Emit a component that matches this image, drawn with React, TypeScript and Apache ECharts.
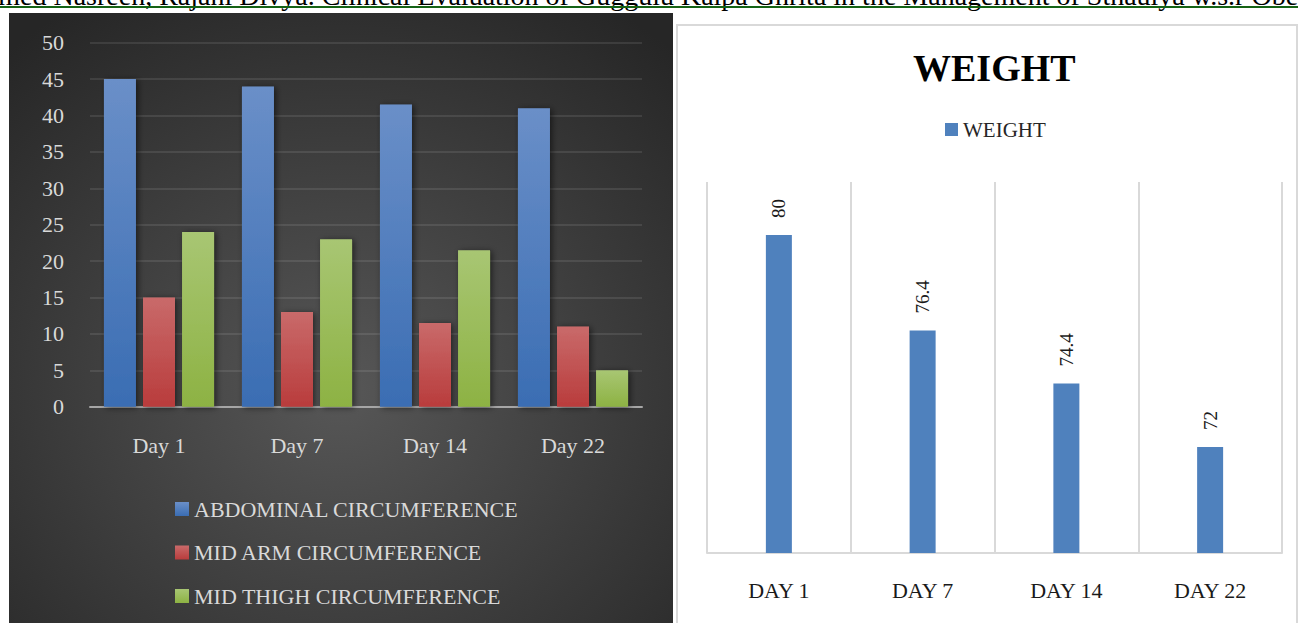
import React, { useEffect, useRef } from "react";
import * as echarts from "echarts";

const days = ["Day 1", "Day 7", "Day 14", "Day 22"];
const seriesNames = ["ABDOMINAL CIRCUMFERENCE", "MID ARM CIRCUMFERENCE", "MID THIGH CIRCUMFERENCE"];
const abdominal = [45, 44, 41.5, 41];
const midArm = [15, 13, 11.5, 11];
const midThigh = [24, 23, 21.5, 5];
const yTicks = { min: 0, max: 50, interval: 5 };

const weightDays = ["DAY 1", "DAY 7", "DAY 14", "DAY 22"];
const weight = [80, 76.4, 74.4, 72];
const weightName = "WEIGHT";

const headerText =
  "Ahmed Nasreen, Rajani Divya. Clinical Evaluation of Guggulu Kalpa Ghrita in the Management of Sthaulya w.s.r Obesity";

const FONT = "Liberation Serif";

function grad(top: string, bottom: string) {
  return new echarts.graphic.LinearGradient(0, 0, 0, 1, [
    { offset: 0, color: top },
    { offset: 1, color: bottom },
  ]);
}

export default function App() {
  const ref = useRef<HTMLDivElement>(null);
  useEffect(() => {
    if (!ref.current) return;
    const chart = echarts.init(ref.current, undefined, { renderer: "svg" });
    const barShadow = {
      shadowBlur: 6,
      shadowColor: "rgba(0,0,0,0.55)",
      shadowOffsetX: 2,
      shadowOffsetY: 1,
    };
    const colors = [
      grad("#6a8fc8", "#3a6db3"),
      grad("#c96a6a", "#b93c3c"),
      grad("#a8c673", "#8db243"),
    ];
    const leftData = [abdominal, midArm, midThigh];
    chart.setOption({
      animation: false,
      backgroundColor: "#ffffff",
      textStyle: { fontFamily: FONT },
      graphic: [
        {
          type: "rect",
          z: -10,
          silent: true,
          shape: { x: 9, y: 13, width: 664, height: 610 },
          style: {
            fill: new echarts.graphic.RadialGradient(0.5, 0.62, 0.75, [
              { offset: 0, color: "#575757" },
              { offset: 1, color: "#262626" },
            ]),
          },
        },
        {
          type: "rect",
          z: -10,
          silent: true,
          shape: { x: 677, y: 25, width: 620, height: 620 },
          style: { fill: "#ffffff", stroke: "#d9d9d9", lineWidth: 2 },
        },
        {
          type: "text",
          z: -6,
          silent: true,
          x: -36,
          y: 9,
          style: {
            text: headerText,
            font: `28px "${FONT}"`,
            fill: "#000000",
            verticalAlign: "bottom",
            align: "left",
          },
        },
        {
          type: "line",
          z: -5,
          silent: true,
          shape: { x1: 0, y1: 7, x2: 1298, y2: 7 },
          style: { stroke: "#156315", lineWidth: 2 },
        },
      ],
      title: {
        text: weightName,
        left: 908,
        top: 44,
        textStyle: { fontFamily: FONT, fontSize: 38, fontWeight: "bold", color: "#000000" },
      },
      legend: [
        {
          data: seriesNames,
          orient: "vertical",
          left: 170,
          top: 493,
          itemWidth: 14,
          itemHeight: 14,
          itemGap: 21.5,
          icon: "rect",
          textStyle: { color: "#d9d9d9", fontSize: 22, fontFamily: FONT },
        },
        {
          data: [weightName],
          left: 940,
          top: 114,
          itemWidth: 13,
          itemHeight: 13,
          icon: "rect",
          textStyle: { color: "#262626", fontSize: 21, fontFamily: FONT },
        },
      ],
      grid: [
        { left: 90, top: 42.7, width: 552, height: 364 },
        { left: 707, top: 182, width: 575, height: 371 },
      ],
      xAxis: [
        {
          type: "category",
          gridIndex: 0,
          data: days,
          axisLine: { lineStyle: { color: "#a6a6a6", width: 2 } },
          axisTick: { show: false },
          axisLabel: { color: "#d9d9d9", fontSize: 22, margin: 28, fontFamily: FONT },
        },
        {
          type: "category",
          gridIndex: 1,
          data: weightDays,
          axisLine: { lineStyle: { color: "#d9d9d9", width: 2 } },
          axisTick: { show: false },
          splitLine: { show: true, lineStyle: { color: "#d9d9d9", width: 2 } },
          axisLabel: { color: "#1a1a1a", fontSize: 22, margin: 26, fontFamily: FONT },
        },
      ],
      yAxis: [
        {
          type: "value",
          gridIndex: 0,
          min: yTicks.min,
          max: yTicks.max,
          interval: yTicks.interval,
          axisLine: { show: false },
          axisTick: { show: false },
          splitLine: { lineStyle: { color: "rgba(255,255,255,0.13)", width: 1.5 } },
          axisLabel: { color: "#d9d9d9", fontSize: 22, margin: 26, fontFamily: FONT },
        },
        {
          type: "value",
          gridIndex: 1,
          min: 68,
          max: 82,
          show: false,
          splitLine: { show: false },
        },
      ],
      series: [
        ...seriesNames.map((name, i) => ({
          name,
          type: "bar",
          xAxisIndex: 0,
          yAxisIndex: 0,
          data: leftData[i],
          barWidth: 32,
          barGap: "22%",
          itemStyle: { color: colors[i], ...barShadow },
        })),
        {
          name: weightName,
          type: "bar",
          xAxisIndex: 1,
          yAxisIndex: 1,
          data: weight,
          barWidth: 26,
          itemStyle: { color: "#4f81bd" },
          label: {
            show: true,
            position: "top",
            rotate: 90,
            align: "left",
            verticalAlign: "middle",
            distance: 17,
            color: "#1a1a1a",
            fontSize: 19,
            fontFamily: FONT,
          },
        },
      ],
    });
    return () => chart.dispose();
  }, []);
  return (
    <div
      ref={ref}
      style={{ position: "absolute", left: 0, top: 0, width: 1298, height: 623 }}
    />
  );
}
